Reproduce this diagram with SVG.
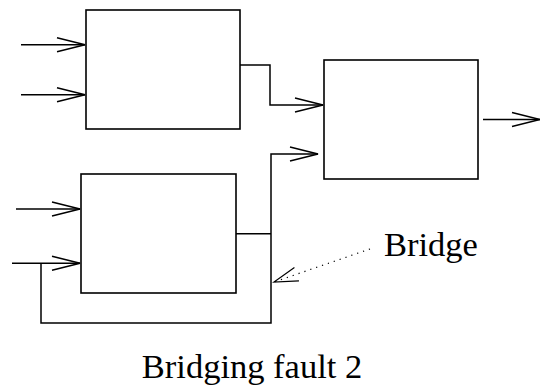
<svg xmlns="http://www.w3.org/2000/svg" width="540" height="385" viewBox="0 0 540 385">
<style>
.box{fill:#fff;stroke:#000;stroke-width:1.6}
.w{fill:none;stroke:#000;stroke-width:1.5}
.dot{fill:none;stroke:#000;stroke-width:1.2;stroke-dasharray:1.2 5}
.t{font-family:"Liberation Serif","Times New Roman",serif;font-size:34.5px;fill:#000}
</style>
<defs>
<marker id="ah" markerUnits="userSpaceOnUse" markerWidth="32" markerHeight="20" refX="0" refY="0" viewBox="-30 -10 32 20" orient="auto" overflow="visible">
<path d="M-28,-7 L0,0 L-28,7" fill="none" stroke="#000" stroke-width="1.5"/>
</marker>
<marker id="ah2" markerUnits="userSpaceOnUse" markerWidth="32" markerHeight="20" refX="0" refY="0" viewBox="-30 -10 32 20" orient="auto" overflow="visible">
<path d="M-24,-7 L0,0 L-24,7" fill="none" stroke="#000" stroke-width="1.2"/>
</marker>
</defs>
<g id="boxA"><rect class="box" x="86" y="10" width="154" height="119"/></g>
<g id="boxB"><rect class="box" x="81" y="174" width="155" height="119"/></g>
<g id="boxC"><rect class="box" x="324" y="60" width="154" height="119"/></g>
<g id="connectors">
<path class="w" d="M21,44.7 H85" marker-end="url(#ah)"/>
<path class="w" d="M21,94.7 H85" marker-end="url(#ah)"/>
<path class="w" d="M240,65 H270 V105 H323" marker-end="url(#ah)"/>
<path class="w" d="M483,119.5 H540" marker-end="url(#ah)"/>
<path class="w" d="M16,209 H80" marker-end="url(#ah)"/>
<path class="w" d="M12,263.3 H80" marker-end="url(#ah)"/>
<path class="w" d="M236,233.7 H271"/>
<path class="w" d="M41,263.3 V323 H271 V154 H318" marker-end="url(#ah)"/>
<path class="dot" d="M370,249 L274,282" marker-end="url(#ah2)"/>
</g>
<g id="labels">
<text class="t" x="384" y="256">Bridge</text>
<text class="t" x="252" y="378" text-anchor="middle">Bridging fault 2</text>
</g>
</svg>
